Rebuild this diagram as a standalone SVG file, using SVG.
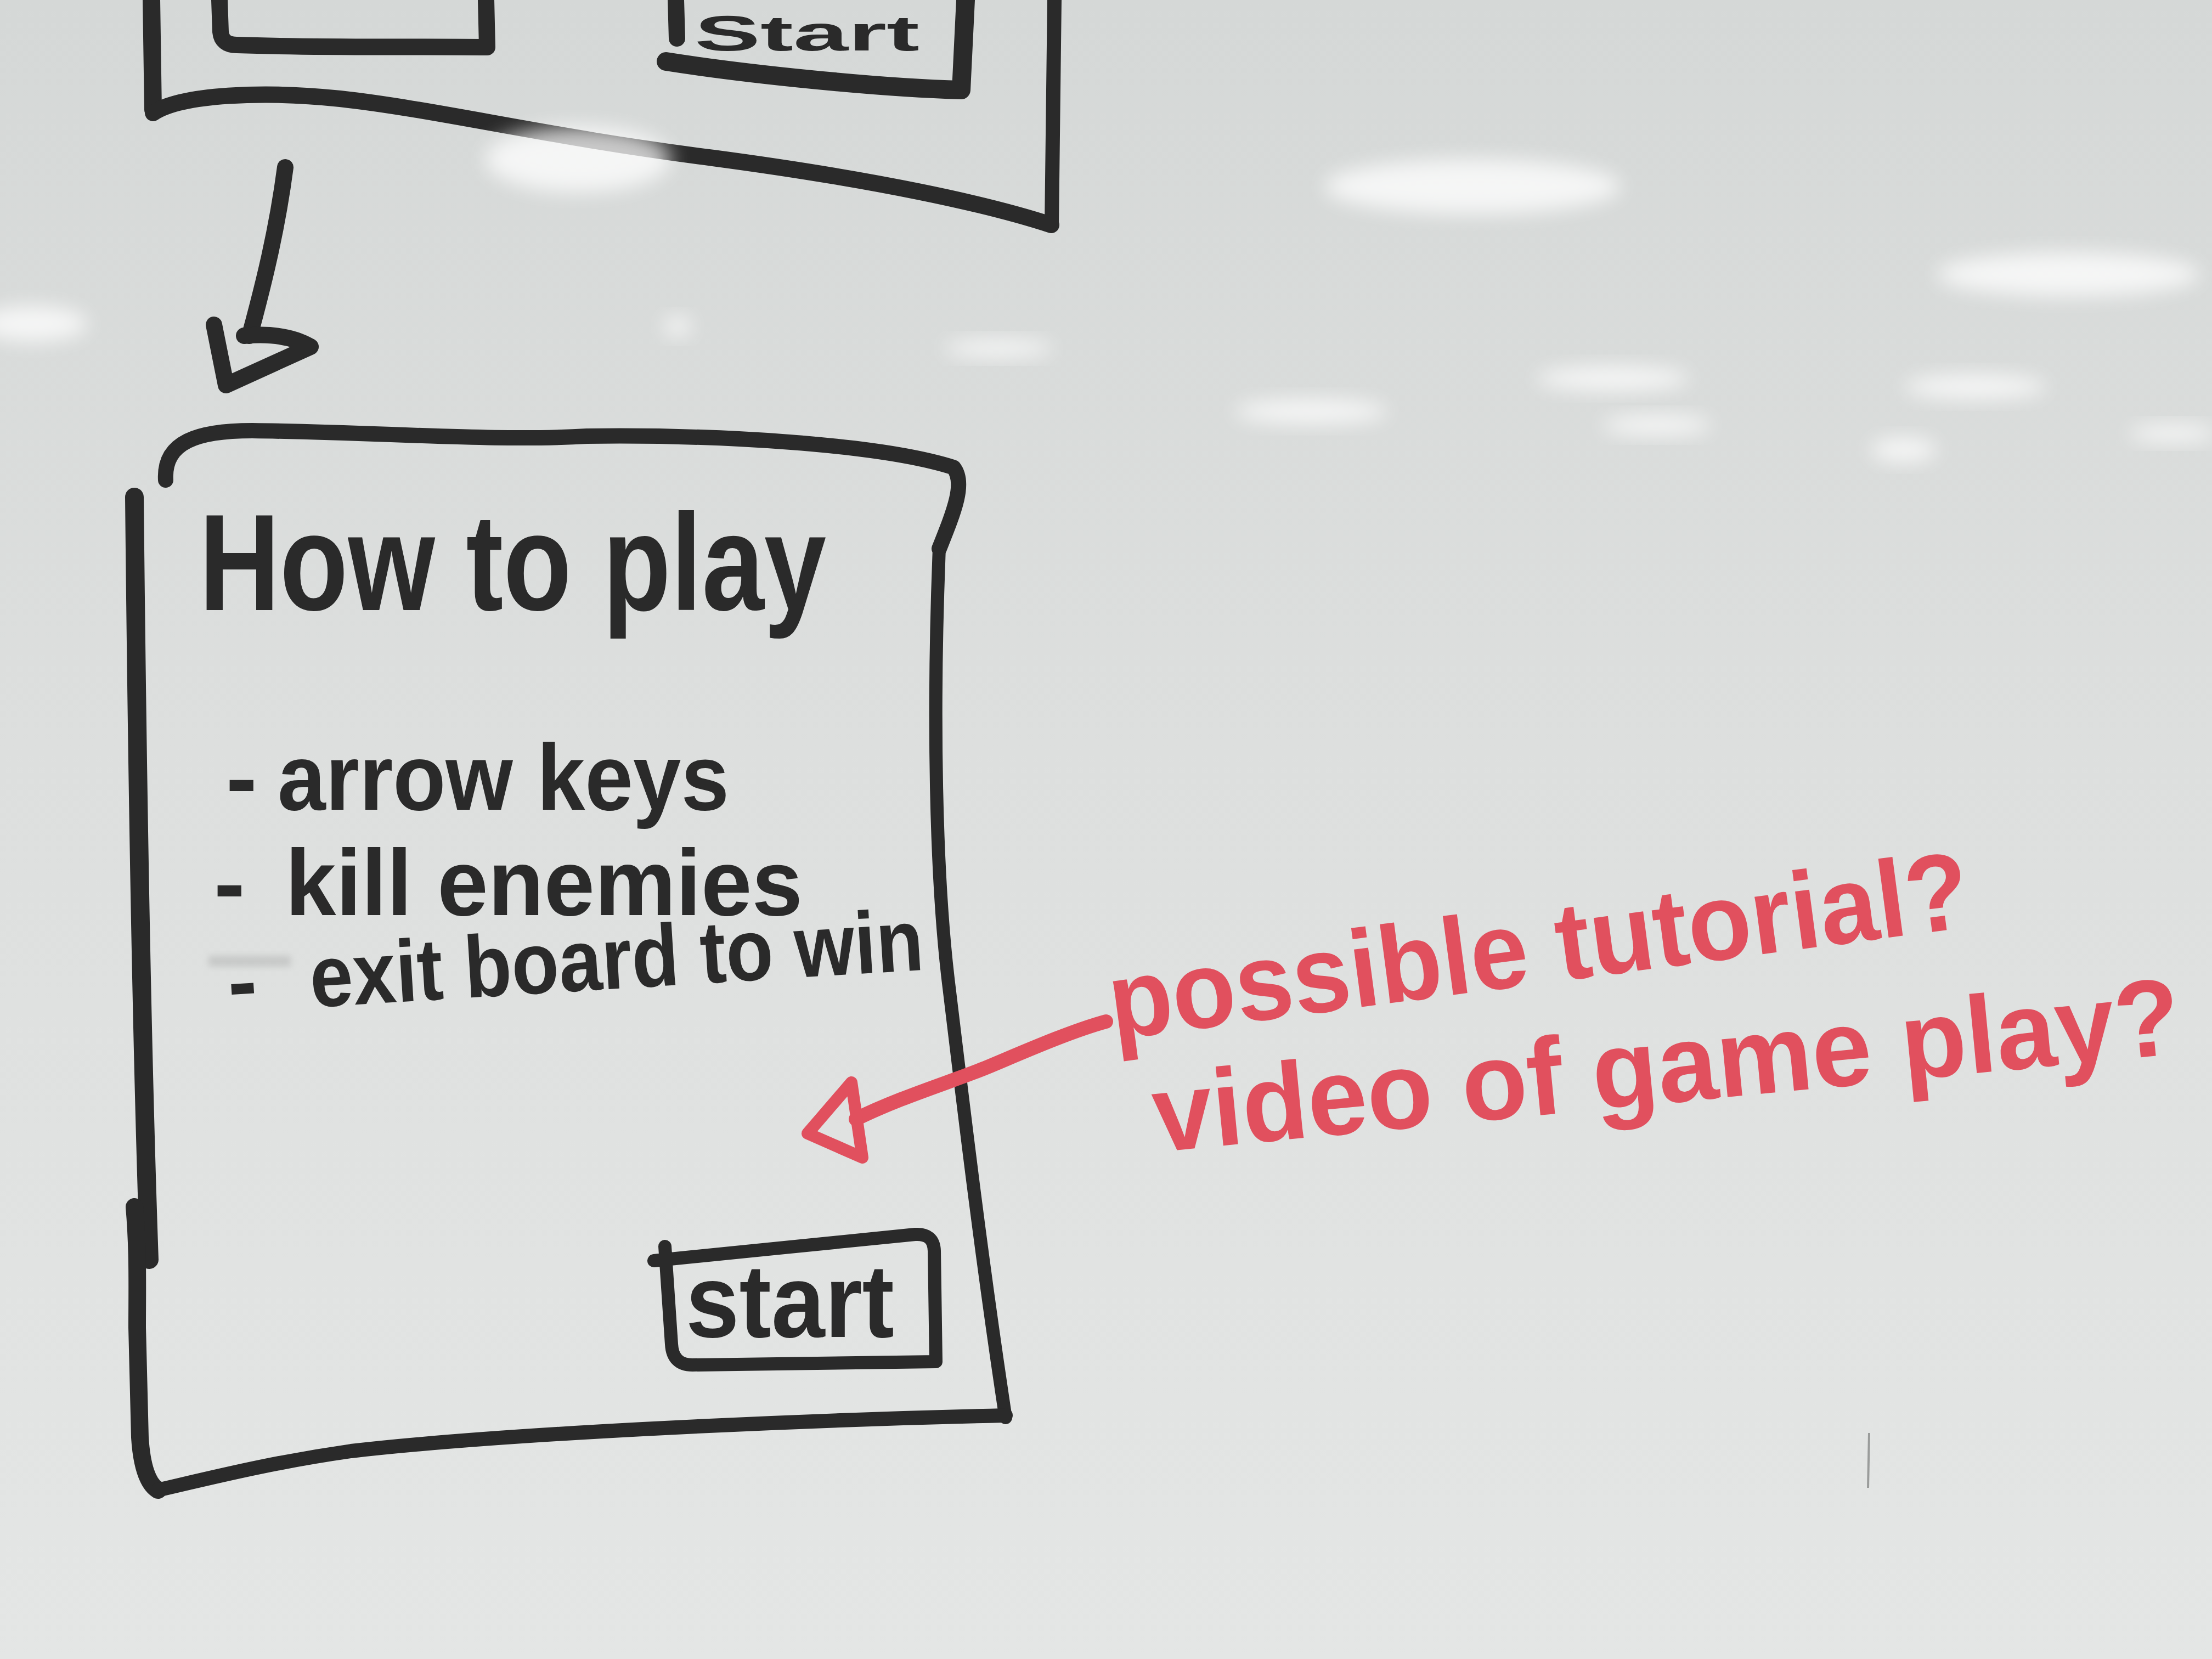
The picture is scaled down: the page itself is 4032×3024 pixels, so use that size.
<svg xmlns="http://www.w3.org/2000/svg" width="4032" height="3024" viewBox="0 0 4032 3024">
  <defs>
    <linearGradient id="board" x1="0" y1="0" x2="0" y2="1">
      <stop offset="0" stop-color="#d5d8d7"/>
      <stop offset="0.45" stop-color="#dddfde"/>
      <stop offset="1" stop-color="#e4e6e5"/>
    </linearGradient>
    <filter id="soft" x="-50%" y="-50%" width="200%" height="200%">
      <feGaussianBlur stdDeviation="18"/>
    </filter>
    <filter id="smudge" x="-50%" y="-50%" width="200%" height="200%">
      <feGaussianBlur stdDeviation="6"/>
    </filter>
  </defs>
  <style>
    .ink { fill: none; stroke: #2a2a2a; stroke-linecap: round; stroke-linejoin: round; }
    .red { fill: none; stroke: #e1505e; stroke-linecap: round; stroke-linejoin: round; }
    .hand { font-family: "Liberation Sans", "DejaVu Sans", sans-serif; font-weight: bold; fill: #2a2a2a; }
    .note { font-family: "Liberation Sans", "DejaVu Sans", sans-serif; font-weight: bold; fill: #e1505e; }
    .glare { fill: #ffffff; filter: url(#soft); }
  </style>

  <!-- whiteboard surface -->
  <rect x="0" y="0" width="4032" height="3024" fill="url(#board)"/>
  <path d="M 3407 2612 L 3405 2712" stroke="#9a9c9b" stroke-width="4" fill="none"/>
  <rect x="380" y="1742" width="150" height="20" fill="#9c9e9d" opacity="0.35" filter="url(#smudge)"/>

  <!-- title screen (top, running off the board edge) -->
  <g id="title-screen">
    <path class="ink" stroke-width="32" d="M 276 0 L 279 200"/>
    <path class="ink" stroke-width="30" d="M 279 206 C 330 172, 480 165, 620 180 C 800 200, 1000 250, 1300 288 C 1600 328, 1800 372, 1916 410"/>
    <path class="ink" stroke-width="26" d="M 1922 0 L 1917 410"/>
    <g id="title-left-button">
      <path class="ink" stroke-width="30" d="M 400 0 L 402 58 Q 404 82 432 82 C 600 88, 760 84, 888 86 L 886 0"/>
    </g>
    <g id="title-start-button">
      <path class="ink" stroke-width="30" d="M 1232 0 L 1234 70"/>
      <path class="ink" stroke-width="34" d="M 1214 112 C 1360 135, 1600 160, 1752 164 L 1760 0"/>
      <text class="hand" x="1266" y="92" font-size="90" textLength="410" lengthAdjust="spacingAndGlyphs">Start</text>
    </g>
  </g>

  <!-- how to play screen -->
  <g id="how-to-play-screen">
    <path class="ink" stroke-width="28" d="M 302 875 C 298 805, 360 785, 460 785 C 700 788, 900 805, 1070 795 C 1300 792, 1600 808, 1738 852 C 1760 880, 1740 930, 1712 1000"/>
    <path class="ink" stroke-width="24" d="M 1712 1000 C 1700 1300, 1705 1600, 1730 1800 C 1760 2050, 1790 2300, 1833 2584"/>
    <path class="ink" stroke-width="34" d="M 245 906 C 250 1400, 258 1900, 272 2296"/>
    <path class="ink" stroke-width="32" d="M 245 2200 C 252 2280, 250 2350, 250 2420 L 255 2620 Q 260 2700 288 2716"/>
    <path class="ink" stroke-width="26" d="M 288 2716 C 400 2690, 500 2665, 640 2645 C 900 2615, 1400 2590, 1833 2580"/>
    <text class="hand" x="363" y="1112" font-size="250" textLength="1143" lengthAdjust="spacingAndGlyphs">How to play</text>
    <text class="hand" font-size="170" y="1476"><tspan x="412">-</tspan><tspan x="506" textLength="823" lengthAdjust="spacingAndGlyphs">arrow keys</tspan></text>
    <text class="hand" font-size="170" y="1668"><tspan x="390">-</tspan><tspan x="520" textLength="943" lengthAdjust="spacingAndGlyphs">kill enemies</tspan></text>
    <text class="hand" font-size="160" transform="rotate(-3.5 568 1836)" y="1836"><tspan x="418">-</tspan><tspan x="568" textLength="1120" lengthAdjust="spacingAndGlyphs">exit board to win</tspan></text>
  </g>

  <!-- start button -->
  <g id="start-button">
    <path class="ink" stroke-width="24" d="M 1192 2298 L 1668 2250 Q 1702 2248 1703 2280 L 1706 2482 L 1262 2488 Q 1226 2488 1224 2450 L 1212 2272"/>
    <text class="hand" x="1250" y="2437" font-size="190" textLength="380" lengthAdjust="spacingAndGlyphs">start</text>
  </g>

  <!-- red margin note -->
  <g id="tutorial-note">
    <text class="note" font-size="200" x="2030" y="1895" transform="rotate(-7.5 2030 1895)" textLength="1580" lengthAdjust="spacingAndGlyphs">possible tutorial?</text>
    <text class="note" font-size="200" x="2108" y="2100" transform="rotate(-5.5 2108 2100)" textLength="1880" lengthAdjust="spacingAndGlyphs">video of game play?</text>
  </g>

  <!-- connectors -->
  <g id="connectors">
    <path class="ink" stroke-width="30" d="M 520 305 C 505 420, 480 520, 455 612"/>
    <path class="ink" stroke-width="30" d="M 390 592 L 412 702 L 566 632 Q 520 605 445 612"/>
    <path class="red" stroke-width="26" d="M 2016 1862 C 1950 1880, 1860 1920, 1800 1945 S 1640 2000, 1560 2040"/>
    <path class="red" stroke-width="22" d="M 1552 1973 L 1472 2066 L 1572 2110 Z"/>
  </g>

  <!-- ceiling light reflections on the board -->
  <g id="reflections" opacity="0.75">
    <ellipse class="glare" cx="1054" cy="290" rx="170" ry="60"/>
    <ellipse class="glare" cx="2684" cy="340" rx="270" ry="50"/>
    <ellipse class="glare" cx="3770" cy="500" rx="240" ry="40"/>
    <ellipse class="glare" cx="60" cy="590" rx="100" ry="32"/>
    <ellipse class="glare" cx="2940" cy="690" rx="140" ry="22"/>
    <ellipse class="glare" cx="3020" cy="775" rx="100" ry="18"/>
    <ellipse class="glare" cx="3600" cy="705" rx="130" ry="22"/>
    <ellipse class="glare" cx="2390" cy="750" rx="140" ry="22"/>
    <ellipse class="glare" cx="1820" cy="635" rx="100" ry="16"/>
    <ellipse class="glare" cx="3960" cy="790" rx="80" ry="16"/>
    <ellipse class="glare" cx="1235" cy="595" rx="25" ry="18"/>
    <ellipse class="glare" cx="3470" cy="820" rx="60" ry="22"/>
  </g>
</svg>
